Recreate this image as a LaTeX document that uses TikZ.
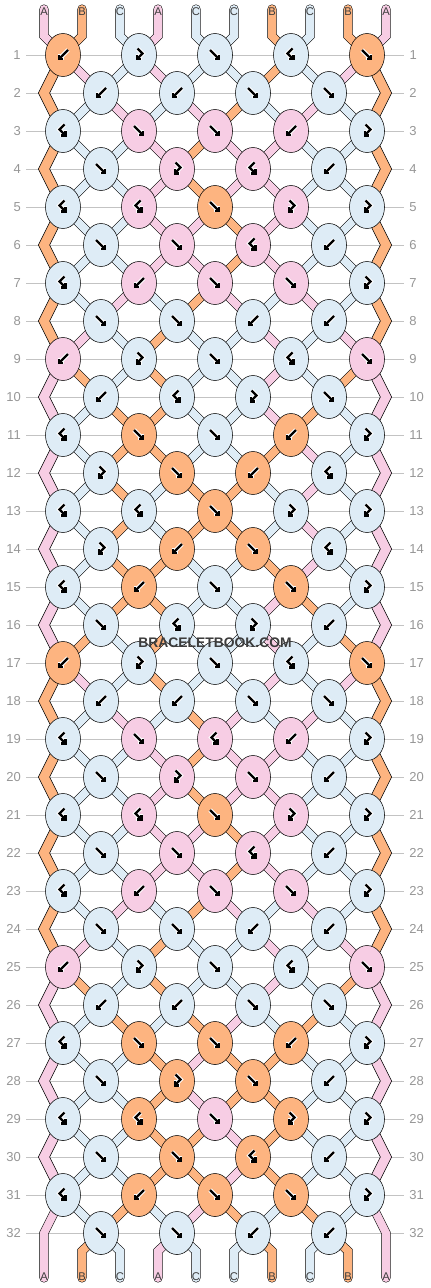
\documentclass[tikz,border=0pt]{standalone}
\usepackage{fontspec}
\setsansfont{Liberation Sans}
\usetikzlibrary{arrows.meta,shapes.geometric}

\definecolor{strA}{RGB}{247,205,228}
\definecolor{strB}{RGB}{253,180,128}
\definecolor{strC}{RGB}{222,236,246}
\definecolor{ruleGray}{RGB}{195,195,195}
\definecolor{numGray}{RGB}{150,150,150}
\definecolor{labelGray}{RGB}{60,60,60}

\pgfdeclarelayer{rules}
\pgfdeclarelayer{threads}
\pgfsetlayers{rules,threads,main}

\tikzset{every picture/.style={line width=0.75pt}}
\tikzset{
  knotnode/.style={ellipse, draw=black, minimum width=26.25pt, minimum height=32.25pt, inner sep=0pt},
  thread/.style={draw=black, double=#1, double distance=6pt},
  edgeband/.style={draw=black, fill=#1},
  glyph/.style={draw=black, line width=1.7pt, -{Straight Barb[angle=90:3.2pt]}},
  glyphhalo/.style={draw=white, line width=3.2pt, -{Straight Barb[angle=90:3.2pt]}},
  strlabel/.style={inner sep=0pt, text=labelGray, font=\sffamily\fontsize{8.4}{9}\selectfont},
  rownum/.style={inner sep=3.75pt, text=numGray, font=\sffamily\fontsize{9.75}{11}\selectfont},
  % pics draw with y pointing up
  pics/knotf/.style={code={\draw[glyphhalo] (-5,5) -- (5,-5); \draw[glyph] (-5,5) -- (5,-5);}},
  pics/knotb/.style={code={\draw[glyphhalo] (5,5) -- (-5,-5); \draw[glyph] (5,5) -- (-5,-5);}},
  pics/knotg/.style={code={\draw[glyphhalo] (-1.5,6.5) -- (3.5,1.5) -- (-3.5,-5.5); \draw[glyph] (-1.5,6.5) -- (3.5,1.5) -- (-3.5,-5.5);}},
  pics/knoth/.style={code={\draw[glyphhalo] (1.5,6.5) -- (-3.5,1.5) -- (3.5,-5.5); \draw[glyph] (1.5,6.5) -- (-3.5,1.5) -- (3.5,-5.5);}},
}

% threads at the top, left to right
\def\toprow{A,B,C,A,C,C,B,C,B,A}
% knots of each row: f forward, b backward, g forward-backward, h backward-forward
\def\knotrows{{b,g,f,h,f},{b,b,f,f},{h,f,f,b,g},{f,g,h,b},{h,h,f,g,g},{f,f,h,b},{h,b,f,f,g},{f,f,b,b},%
{b,g,f,h,f},{b,h,g,f},{h,f,f,b,g},{g,f,b,h},{h,h,f,g,g},{g,b,f,h},{h,b,f,f,g},{f,h,g,b},%
{b,g,f,h,f},{b,b,f,f},{h,f,h,b,g},{f,g,f,b},{h,h,f,g,g},{f,f,h,b},{h,b,f,f,g},{f,f,b,b},%
{b,g,f,h,f},{b,b,f,f},{h,f,f,b,g},{f,g,f,b},{h,h,f,g,g},{f,f,h,b},{h,b,f,f,g},{f,f,b,b}}
\def\swappos{\expandafter\xdef\csname pos\lp\endcsname{\lb}\expandafter\xdef\csname pos\rp\endcsname{\la}}

\begin{document}
\begin{tikzpicture}[x=0.75pt,y=0.75pt,yscale=-1,xscale=1]
\useasboundingbox (0,0) rectangle (430,1288);

% follow the threads row by row
\foreach \st [count=\ps] in \toprow {\expandafter\xdef\csname pos\ps\endcsname{\st}}
\foreach \krow [count=\rw] in \knotrows {%
  \ifodd\rw\relax\else
    \expandafter\xdef\csname in-\rw-1\endcsname{\csname pos1\endcsname}%
    \expandafter\xdef\csname in-\rw-10\endcsname{\csname pos10\endcsname}%
  \fi
  \foreach \ktype [count=\kj] in \krow {%
    \pgfmathtruncatemacro\lp{2*\kj-mod(\rw,2)}%
    \pgfmathtruncatemacro\rp{\lp+1}%
    \edef\la{\csname pos\lp\endcsname}%
    \edef\lb{\csname pos\rp\endcsname}%
    \expandafter\xdef\csname in-\rw-\lp\endcsname{\la}%
    \expandafter\xdef\csname in-\rw-\rp\endcsname{\lb}%
    \let\kc\lb
    \if f\ktype\let\kc\la\fi
    \if g\ktype\let\kc\la\fi
    \expandafter\xdef\csname kc-\rw-\kj\endcsname{\kc}%
    \if f\ktype\swappos\fi
    \if b\ktype\swappos\fi
  }%
}

%Row numbers and rules
\foreach \rw in {1,...,32} {
  \pgfmathsetmacro\ry{55+38*(\rw-1)}
  \node[rownum, anchor=east] (nl-\rw) at (26,\ry) {\rw};
  \node[rownum, anchor=west] (nr-\rw) at (404,\ry) {\rw};
  \begin{pgfonlayer}{rules}
    \draw[ruleGray] (nl-\rw.east) -- (nr-\rw.west);
  \end{pgfonlayer}
}

%Thread ends and edge turns
\foreach \ps in {1,...,10} {
  \pgfmathsetmacro\sx{44+38*(\ps-1)}
  \coordinate (t-\ps) at (\sx,9);
  \coordinate (tb-\ps) at (\sx,36);
  \coordinate (bb-\ps) at (\sx,1251);
  \coordinate (be-\ps) at (\sx,1278);
}
\foreach \rw in {2,4,...,32} {
  \pgfmathsetmacro\ey{55+38*(\rw-1)}
  \coordinate (eL-\rw) at (44,\ey);
  \coordinate (eR-\rw) at (386,\ey);
}

%Knots
\foreach \krow [count=\rw] in \knotrows {
  \foreach \ktype [count=\kj] in \krow {
    \pgfmathsetmacro\kx{63+38*(1-mod(\rw,2))+76*(\kj-1)}
    \pgfmathsetmacro\ky{55+38*(\rw-1)}
    \edef\kcol{str\csname kc-\rw-\kj\endcsname}
    \node[knotnode, fill=\kcol] (k-\rw-\kj) at (\kx,\ky) {};
    \pic at (k-\rw-\kj.center) {knot\ktype};
  }
}

\begin{pgfonlayer}{threads}
%Threads from the top into row 1
\foreach \ps in {1,...,10} {
  \pgfmathtruncatemacro\kj{(\ps+1)/2}
  \edef\tcol{str\csname in-1-\ps\endcsname}
  \draw[thread=\tcol, line cap=round] (t-\ps) -- (tb-\ps) -- (k-1-\kj.center);
}
%Threads between knots
\foreach \rw in {2,...,32} {
  \pgfmathtruncatemacro\pr{\rw-1}
  \ifodd\rw\relax
    \foreach \kj in {1,...,5} {
      \pgfmathtruncatemacro\lp{2*\kj-1}
      \pgfmathtruncatemacro\rp{2*\kj}
      \pgfmathtruncatemacro\kl{\kj-1}
      \edef\lcol{str\csname in-\rw-\lp\endcsname}
      \edef\rcol{str\csname in-\rw-\rp\endcsname}
      \ifnum\kj>1 \draw[thread=\lcol] (k-\pr-\kl.center) -- (k-\rw-\kj.center); \fi
      \ifnum\kj<5 \draw[thread=\rcol] (k-\pr-\kj.center) -- (k-\rw-\kj.center); \fi
    }
  \else
    \foreach \kj in {1,...,4} {
      \pgfmathtruncatemacro\lp{2*\kj}
      \pgfmathtruncatemacro\rp{2*\kj+1}
      \pgfmathtruncatemacro\kr{\kj+1}
      \edef\lcol{str\csname in-\rw-\lp\endcsname}
      \edef\rcol{str\csname in-\rw-\rp\endcsname}
      \draw[thread=\lcol] (k-\pr-\kj.center) -- (k-\rw-\kj.center);
      \draw[thread=\rcol] (k-\pr-\kr.center) -- (k-\rw-\kj.center);
    }
  \fi
}
%Edge threads
\foreach \rw in {2,4,...,30} {
  \pgfmathtruncatemacro\pr{\rw-1}
  \pgfmathtruncatemacro\nx{\rw+1}
  \edef\lcol{str\csname in-\rw-1\endcsname}
  \edef\rcol{str\csname in-\rw-10\endcsname}
  \draw[edgeband=\lcol] ([xshift=-4.2pt]k-\pr-1.center) -- ([xshift=-4.2pt]eL-\rw) -- ([xshift=-4.2pt]k-\nx-1.center)
    -- ([xshift=4.2pt]k-\nx-1.center) -- ([xshift=4.2pt]eL-\rw) -- ([xshift=4.2pt]k-\pr-1.center) -- cycle;
  \draw[edgeband=\rcol] ([xshift=-4.2pt]k-\pr-5.center) -- ([xshift=-4.2pt]eR-\rw) -- ([xshift=-4.2pt]k-\nx-5.center)
    -- ([xshift=4.2pt]k-\nx-5.center) -- ([xshift=4.2pt]eR-\rw) -- ([xshift=4.2pt]k-\pr-5.center) -- cycle;
}
\edef\lcol{str\csname in-32-1\endcsname}
\edef\rcol{str\csname in-32-10\endcsname}
\draw[thread=\lcol, line cap=round] (k-31-1.center) -- (eL-32) -- (be-1);
\draw[thread=\rcol, line cap=round] (k-31-5.center) -- (eR-32) -- (be-10);
%Threads from row 32 to the bottom
\foreach \ps in {2,...,9} {
  \pgfmathtruncatemacro\kj{\ps/2}
  \edef\bcol{str\csname pos\ps\endcsname}
  \draw[thread=\bcol, line cap=round] (k-32-\kj.center) -- (bb-\ps) -- (be-\ps);
}
\end{pgfonlayer}

% Text Node
\foreach \st [count=\ps] in \toprow {
  \pgfmathsetmacro\sx{44+38*(\ps-1)}
  \node[strlabel] (lt-\ps) at (\sx,12) {\st};
  \node[strlabel] (lb-\ps) at (\sx,1277) {\csname pos\ps\endcsname};
}
% Text Node
\node[text=labelGray, font=\sffamily\bfseries\fontsize{10.4}{12}\selectfont, inner sep=0pt] (wm) at (215,643) {BRACELETBOOK.COM};

\end{tikzpicture}
\end{document}
